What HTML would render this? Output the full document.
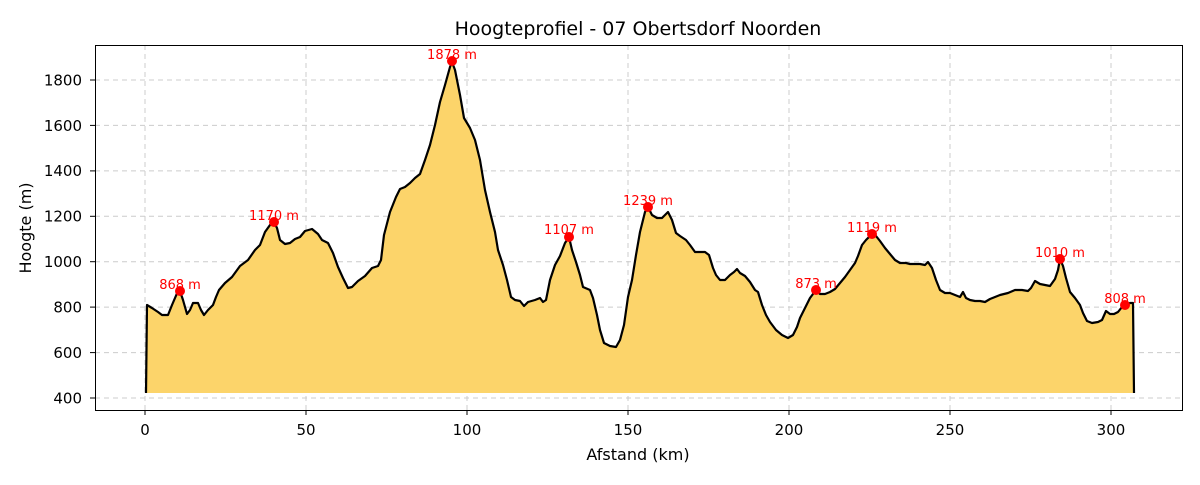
<!DOCTYPE html>
<html><head><meta charset="utf-8"><style>
html,body{margin:0;padding:0;background:#fff;}
text{font-family:"DejaVu Sans","Liberation Sans",sans-serif;}
</style></head><body>
<svg width="1200" height="480" viewBox="0 0 1200 480" xmlns="http://www.w3.org/2000/svg">
<rect width="1200" height="480" fill="#fff"/>
<g stroke="#cccccc" stroke-width="1" stroke-dasharray="5,4">
<line x1="145" y1="45" x2="145" y2="410"/><line x1="306" y1="45" x2="306" y2="410"/><line x1="467" y1="45" x2="467" y2="410"/><line x1="628" y1="45" x2="628" y2="410"/><line x1="789" y1="45" x2="789" y2="410"/><line x1="950" y1="45" x2="950" y2="410"/><line x1="1111" y1="45" x2="1111" y2="410"/>
<line x1="95" y1="398" x2="1182" y2="398"/><line x1="95" y1="352.6" x2="1182" y2="352.6"/><line x1="95" y1="307.1" x2="1182" y2="307.1"/><line x1="95" y1="261.7" x2="1182" y2="261.7"/><line x1="95" y1="216.3" x2="1182" y2="216.3"/><line x1="95" y1="170.9" x2="1182" y2="170.9"/><line x1="95" y1="125.4" x2="1182" y2="125.4"/><line x1="95" y1="80" x2="1182" y2="80"/>
</g>
<polygon fill="#fcd46a" points="146,393 147,305 152,308 158,312 162,315 168,315 172,305 178,291 180,291 183,300 187,314 190,310 193,303 198,303 201,310 204,315 208,310 213,305 216,297 219,290 225,283 232,277 240,266 248,260 255,250 260,245 265,232 270,225 274,222 277,228 280,240 285,244 290,243 295,239 300,237 305,231 312,229 318,234 322,240 328,243 333,253 338,267 343,278 348,288 352,287 358,281 365,276 372,268 378,266 381,260 384,235 390,212 396,197 400,189 405,187 410,183 415,178 420,174 425,160 430,145 435,125 440,102 445,85 450,67 452,62 455,70 460,95 464,118 470,128 475,140 480,160 485,190 490,212 495,232 498,250 503,265 507,280 511,297 515,300 520,301 524,306 528,302 535,300 540,298 543,302 546,300 550,280 555,265 560,256 565,243 569,237 572,250 576,262 580,275 583,287 590,290 593,298 597,315 600,330 604,343 610,346 616,347 620,340 624,325 628,297 632,280 636,255 640,232 645,212 648,207 652,215 657,218 662,218 665,215 668,212 672,220 676,233 680,236 686,240 690,245 695,252 700,252 705,252 709,255 713,268 716,275 720,280 725,280 730,275 734,272 737,269 740,273 745,276 750,282 755,290 758,292 762,305 766,315 770,322 776,330 782,335 788,338 793,335 797,327 800,318 805,308 810,298 816,290 820,294 825,294 830,292 835,289 840,283 845,277 850,270 855,263 858,256 862,245 866,240 870,236 872,234 876,236 880,241 885,248 890,254 895,260 900,263 906,263 910,264 915,264 920,264 925,265 928,262 932,268 936,280 940,290 945,293 950,293 955,295 960,297 963,292 966,298 970,300 975,301 980,301 985,302 990,299 995,297 1000,295 1008,293 1015,290 1022,290 1028,291 1031,288 1035,281 1040,284 1045,285 1050,286 1055,279 1058,270 1060,259 1063,266 1066,278 1070,292 1075,298 1080,305 1083,313 1087,321 1092,323 1098,322 1102,320 1106,311 1110,314 1114,314 1118,312 1122,307 1125,305 1130,303 1133,303 1134,393"/>
<polyline fill="none" stroke="#000" stroke-width="2.2" stroke-linejoin="round" points="146,393 147,305 152,308 158,312 162,315 168,315 172,305 178,291 180,291 183,300 187,314 190,310 193,303 198,303 201,310 204,315 208,310 213,305 216,297 219,290 225,283 232,277 240,266 248,260 255,250 260,245 265,232 270,225 274,222 277,228 280,240 285,244 290,243 295,239 300,237 305,231 312,229 318,234 322,240 328,243 333,253 338,267 343,278 348,288 352,287 358,281 365,276 372,268 378,266 381,260 384,235 390,212 396,197 400,189 405,187 410,183 415,178 420,174 425,160 430,145 435,125 440,102 445,85 450,67 452,62 455,70 460,95 464,118 470,128 475,140 480,160 485,190 490,212 495,232 498,250 503,265 507,280 511,297 515,300 520,301 524,306 528,302 535,300 540,298 543,302 546,300 550,280 555,265 560,256 565,243 569,237 572,250 576,262 580,275 583,287 590,290 593,298 597,315 600,330 604,343 610,346 616,347 620,340 624,325 628,297 632,280 636,255 640,232 645,212 648,207 652,215 657,218 662,218 665,215 668,212 672,220 676,233 680,236 686,240 690,245 695,252 700,252 705,252 709,255 713,268 716,275 720,280 725,280 730,275 734,272 737,269 740,273 745,276 750,282 755,290 758,292 762,305 766,315 770,322 776,330 782,335 788,338 793,335 797,327 800,318 805,308 810,298 816,290 820,294 825,294 830,292 835,289 840,283 845,277 850,270 855,263 858,256 862,245 866,240 870,236 872,234 876,236 880,241 885,248 890,254 895,260 900,263 906,263 910,264 915,264 920,264 925,265 928,262 932,268 936,280 940,290 945,293 950,293 955,295 960,297 963,292 966,298 970,300 975,301 980,301 985,302 990,299 995,297 1000,295 1008,293 1015,290 1022,290 1028,291 1031,288 1035,281 1040,284 1045,285 1050,286 1055,279 1058,270 1060,259 1063,266 1066,278 1070,292 1075,298 1080,305 1083,313 1087,321 1092,323 1098,322 1102,320 1106,311 1110,314 1114,314 1118,312 1122,307 1125,305 1130,303 1133,303 1134,393"/>
<g fill="#ff0000">
<circle cx="180" cy="291" r="5"/><circle cx="274" cy="222" r="5"/><circle cx="452" cy="61" r="5"/><circle cx="569" cy="237" r="5"/><circle cx="648" cy="207" r="5"/><circle cx="816" cy="290" r="5"/><circle cx="872" cy="234" r="5"/><circle cx="1060" cy="259" r="5"/><circle cx="1125" cy="305" r="5"/>
</g>
<g fill="#ff0000" font-size="13" text-anchor="middle">
<text x="180" y="289">868 m</text><text x="274" y="220">1170 m</text><text x="452" y="59">1878 m</text><text x="569" y="234">1107 m</text><text x="648" y="205">1239 m</text><text x="816" y="288">873 m</text><text x="872" y="232">1119 m</text><text x="1060" y="257">1010 m</text><text x="1125" y="303">808 m</text>
</g>
<rect x="95.5" y="45.5" width="1087" height="365" fill="none" stroke="#000" stroke-width="1"/>
<g stroke="#000" stroke-width="1">
<line x1="145" y1="410" x2="145" y2="415"/><line x1="306" y1="410" x2="306" y2="415"/><line x1="467" y1="410" x2="467" y2="415"/><line x1="628" y1="410" x2="628" y2="415"/><line x1="789" y1="410" x2="789" y2="415"/><line x1="950" y1="410" x2="950" y2="415"/><line x1="1111" y1="410" x2="1111" y2="415"/>
<line x1="90" y1="398" x2="95" y2="398"/><line x1="90" y1="352.6" x2="95" y2="352.6"/><line x1="90" y1="307.1" x2="95" y2="307.1"/><line x1="90" y1="261.7" x2="95" y2="261.7"/><line x1="90" y1="216.3" x2="95" y2="216.3"/><line x1="90" y1="170.9" x2="95" y2="170.9"/><line x1="90" y1="125.4" x2="95" y2="125.4"/><line x1="90" y1="80" x2="95" y2="80"/>
</g>
<g font-size="15" fill="#000" text-anchor="middle">
<text x="145" y="435">0</text><text x="306" y="435">50</text><text x="467" y="435">100</text><text x="628" y="435">150</text><text x="789" y="435">200</text><text x="950" y="435">250</text><text x="1111" y="435">300</text>
</g>
<g font-size="15" fill="#000" text-anchor="end">
<text x="82" y="403.5">400</text><text x="82" y="358">600</text><text x="82" y="312.5">800</text><text x="82" y="267">1000</text><text x="82" y="221.5">1200</text><text x="82" y="176">1400</text><text x="82" y="131">1600</text><text x="82" y="85.5">1800</text>
</g>
<text x="638" y="460" font-size="16" text-anchor="middle">Afstand (km)</text>
<text transform="translate(31,228) rotate(-90)" font-size="16" text-anchor="middle">Hoogte (m)</text>
<text x="638" y="35" font-size="19" text-anchor="middle">Hoogteprofiel - 07 Obertsdorf Noorden</text>
</svg>
</body></html>
